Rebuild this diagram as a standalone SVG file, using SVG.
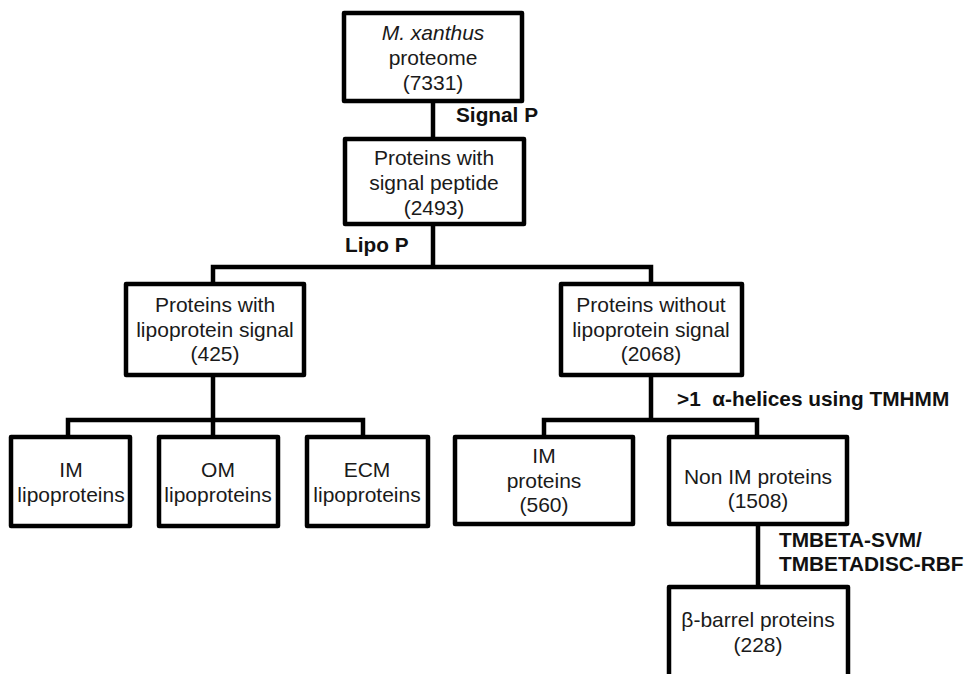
<svg xmlns="http://www.w3.org/2000/svg" width="965" height="674" viewBox="0 0 965 674">
<style>
.box{fill:#fff;stroke:#000;stroke-width:4.5;stroke-linejoin:round}
.t{font-family:"Liberation Sans",Arial,sans-serif;font-size:21px;fill:#1a1a1a;text-anchor:middle}
.lbl{font-family:"Liberation Sans",Arial,sans-serif;font-size:20.8px;font-weight:bold;fill:#111}
.c{fill:none;stroke:#000;stroke-width:4.5;stroke-linejoin:miter;stroke-linecap:square}
</style>
<rect width="965" height="674" fill="#fff"/>
<g id="connectors">
<path class="c" d="M433 101V137"/>
<path class="c" d="M433 224V267M213 284V267H651V284"/>
<path class="c" d="M213 375V420M68 437V420H363V437M213 420V435"/>
<path class="c" d="M651 375V420M544 437V420H757V437"/>
<path class="c" d="M758 524V587"/>
</g>
<g id="labels">
<text class="lbl" x="456" y="122">Signal P</text>
<text class="lbl" x="345" y="252">Lipo P</text>
<text class="lbl" x="677" y="406" xml:space="preserve">&gt;1  α-helices using TMHMM</text>
<text class="lbl" x="779" y="547">TMBETA-SVM/</text>
<text class="lbl" x="779" y="571">TMBETADISC-RBF</text>
</g>
<g id="n1">
<rect class="box" x="344" y="13" width="178" height="88"/>
<text class="t" x="433" y="40"><tspan font-style="italic">M. xanthus</tspan></text>
<text class="t" x="433" y="65">proteome</text>
<text class="t" x="433" y="90">(7331)</text>
</g>
<g id="n2">
<rect class="box" x="345" y="139" width="179" height="85"/>
<text class="t" x="434" y="165">Proteins with</text>
<text class="t" x="434" y="190">signal peptide</text>
<text class="t" x="434" y="215">(2493)</text>
</g>
<g id="n3">
<rect class="box" x="126" y="284" width="178" height="91"/>
<text class="t" x="215" y="312">Proteins with</text>
<text class="t" x="215" y="337">lipoprotein signal</text>
<text class="t" x="215" y="361">(425)</text>
</g>
<g id="n4">
<rect class="box" x="561" y="284" width="181" height="91"/>
<text class="t" x="651" y="312">Proteins without</text>
<text class="t" x="651" y="337">lipoprotein signal</text>
<text class="t" x="651" y="361">(2068)</text>
</g>
<g id="n5">
<rect class="box" x="11" y="437" width="119" height="89"/>
<text class="t" x="71" y="477">IM</text>
<text class="t" x="71" y="502">lipoproteins</text>
</g>
<g id="n6">
<rect class="box" x="159" y="437" width="119" height="89"/>
<text class="t" x="218" y="477">OM</text>
<text class="t" x="218" y="502">lipoproteins</text>
</g>
<g id="n7">
<rect class="box" x="307" y="437" width="121" height="89"/>
<text class="t" x="367" y="477">ECM</text>
<text class="t" x="367" y="502">lipoproteins</text>
</g>
<g id="n8">
<rect class="box" x="455" y="437" width="178" height="87"/>
<text class="t" x="544" y="463">IM</text>
<text class="t" x="544" y="488">proteins</text>
<text class="t" x="544" y="512">(560)</text>
</g>
<g id="n9">
<rect class="box" x="669" y="437" width="178" height="87"/>
<text class="t" x="758" y="484">Non IM proteins</text>
<text class="t" x="758" y="508">(1508)</text>
</g>
<g id="n10">
<rect class="box" x="669" y="587" width="179" height="100"/>
<text class="t" x="758" y="627">β-barrel proteins</text>
<text class="t" x="758" y="652">(228)</text>
</g>
</svg>
